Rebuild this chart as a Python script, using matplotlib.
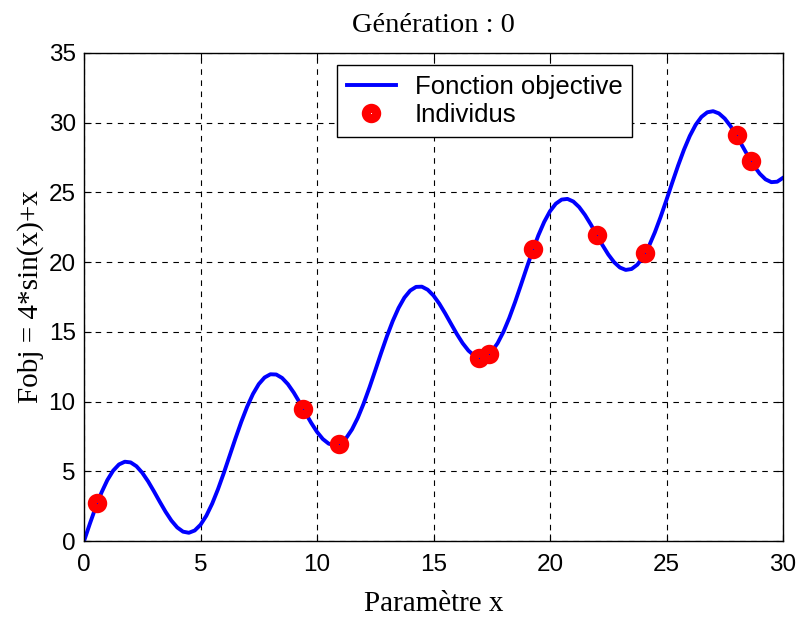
import matplotlib.pyplot as plt

# courbe Fobj (pas de 0.25)
x_curve = [i * 0.25 for i in range(121)]
y_curve = [
    0.000, 1.240, 2.418, 3.476, 4.366, 5.046, 5.490, 5.686, 5.637, 5.362,
    4.894, 4.277, 3.564, 2.817, 2.097, 1.464, 0.973, 0.670, 0.590, 0.753,
    1.164, 1.814, 2.678, 3.717, 4.882, 6.117, 7.360, 8.550, 9.628, 10.543,
    11.252, 11.728, 11.958, 11.940, 11.694, 11.249, 10.648, 9.946, 9.199, 8.472,
    7.824, 7.312, 6.981, 6.869, 7.000, 7.379, 7.998, 8.835, 9.854, 11.006,
    12.235, 13.480, 14.681, 15.776, 16.714, 17.455, 17.962, 18.224, 18.240, 18.022,
    17.601, 17.018, 16.326, 15.582, 14.848, 14.186, 13.653, 13.294, 13.154, 13.252,
    13.598, 14.186, 14.996, 15.993, 17.130, 18.352, 19.600, 20.809, 21.922, 22.884,
    23.652, 24.192, 24.487, 24.535, 24.347, 23.951, 23.387, 22.706, 21.964, 21.226,
    20.551, 19.998, 19.615, 19.442, 19.508, 19.820, 20.378, 21.160, 22.135, 23.256,
    24.470, 25.718, 26.936, 28.065, 29.050, 29.846, 30.417, 30.746, 30.826, 30.667,
    30.297, 29.752, 29.084, 28.347, 27.605, 26.918, 26.346, 25.937, 25.736, 25.768,
    26.048,
]

# individus
x_ind = [0.56, 9.40, 10.94, 16.95, 17.38, 19.27, 22.02, 24.08, 28.03, 28.63]
y_ind = [2.75, 9.45, 6.97, 13.15, 13.42, 20.95, 21.95, 20.65, 29.10, 27.28]

serif = ['Liberation Serif', 'DejaVu Serif']
sans = ['Liberation Sans', 'DejaVu Sans']

fig = plt.figure(figsize=(7.98, 6.19), dpi=100)
ax = fig.add_axes([0.1053, 0.126, 0.8759, 0.7884])

ax.plot(x_curve, y_curve, color='#0000ff', lw=2.8, label='Fonction objective', zorder=2)
ax.plot(x_ind, y_ind, 'o', color='red', mfc='none', mec='red', ms=7.5, mew=6.5,
        label='Individus', zorder=3)

ax.set_xlim(0, 30)
ax.set_ylim(0, 35)
ax.set_xticks(range(0, 31, 5))
ax.set_yticks(range(0, 36, 5))
ax.grid(True, color='black', linestyle=(0, (5, 5)), lw=0.8)
ax.tick_params(direction='in', top=True, right=True, length=5, width=0.8, labelsize=17.5)
ax.tick_params(axis='x', pad=9)
ax.tick_params(axis='y', pad=6)
for lab in ax.get_xticklabels() + ax.get_yticklabels():
    lab.set_family(sans)
for s in ax.spines.values():
    s.set_linewidth(1.0)

ax.set_title('Génération : 0', family=serif, fontsize=20.5, pad=15)
ax.set_xlabel('Paramètre x', family=serif, fontsize=21, labelpad=11)
ax.set_ylabel('Fobj = 4*sin(x)+x', family=serif, fontsize=21, labelpad=3)

leg = ax.legend(loc='upper left', bbox_to_anchor=(0.362, 0.975), prop={'family': sans, 'size': 18.5},
                fancybox=False, framealpha=1, edgecolor='black', borderpad=0.38,
                handlelength=1.9, handletextpad=0.75, labelspacing=0.15, borderaxespad=0)
leg.get_frame().set_linewidth(1.0)

fig.savefig('out.png', dpi=100)
